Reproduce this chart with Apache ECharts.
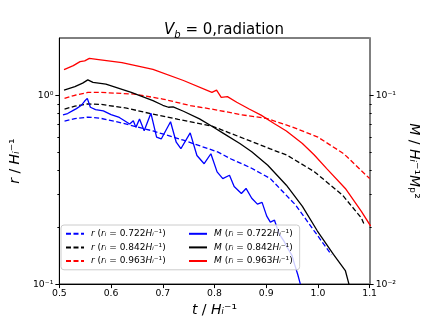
<!DOCTYPE html>
<html>
<head>
<meta charset="utf-8">
<script src="https://cdn.jsdelivr.net/npm/echarts@6.0.0/dist/echarts.min.js"></script>
<style>html,body{margin:0;padding:0;background:#fff}#main{width:429px;height:322px}</style>
</head>
<body>
<div id="main"></div>
<script>
var chartDom = document.getElementById('main')
var myChart = echarts.init(chartDom)

const font = 'DejaVu Sans'
const ri = ['0.722', '0.842', '0.963']
const colors = ['#0000ff', '#000000', '#ff0000']

// r(t) for each initial radius  [t, r]
const rBlue = [[0.51, 0.73], [0.53, 0.752], [0.555, 0.766], [0.58, 0.755], [0.621, 0.713], [0.681, 0.647], [0.74, 0.578], [0.807, 0.5], [0.831, 0.461], [0.87, 0.413], [0.908, 0.362], [0.957, 0.262], [0.993, 0.191], [1.026, 0.143]]
const rBlack = [[0.51, 0.845], [0.53, 0.875], [0.555, 0.9], [0.58, 0.895], [0.63, 0.855], [0.68, 0.795], [0.73, 0.745], [0.795, 0.687], [0.85, 0.6], [0.908, 0.52], [0.94, 0.482], [0.993, 0.394], [1.048, 0.295], [1.084, 0.224], [1.089, 0.208]]
const rRed = [[0.51, 0.963], [0.53, 1.0], [0.555, 1.035], [0.58, 1.035], [0.645, 1.014], [0.7, 0.955], [0.753, 0.882], [0.8, 0.84], [0.85, 0.79], [0.9, 0.755], [0.95, 0.68], [1.0, 0.6], [1.05, 0.49], [1.1, 0.362]]

// M(t) for each initial radius  [t, M]
const mBlue = [[0.507, 0.0787], [0.516, 0.08], [0.525, 0.0826], [0.533, 0.085], [0.542, 0.0882], [0.549, 0.0932], [0.554, 0.0963], [0.56, 0.0864], [0.57, 0.084], [0.585, 0.0826], [0.6, 0.079], [0.616, 0.0763], [0.636, 0.0704], [0.643, 0.0732], [0.648, 0.0676], [0.655, 0.0748], [0.664, 0.0649], [0.677, 0.0804], [0.688, 0.06], [0.697, 0.0587], [0.715, 0.0724], [0.726, 0.0564], [0.735, 0.0521], [0.753, 0.0632], [0.766, 0.048], [0.78, 0.0434], [0.793, 0.049], [0.805, 0.0393], [0.816, 0.0362], [0.829, 0.0377], [0.838, 0.0329], [0.852, 0.0302], [0.861, 0.0321], [0.872, 0.0285], [0.883, 0.0265], [0.892, 0.0271], [0.901, 0.0229], [0.908, 0.0213], [0.916, 0.0218], [0.925, 0.01844], [0.934, 0.01694], [0.941, 0.01557], [0.95, 0.01414], [0.955, 0.01268], [0.961, 0.01124], [0.966, 0.01]]
const mBlack = [[0.509, 0.1066], [0.53, 0.111], [0.545, 0.116], [0.555, 0.1207], [0.565, 0.117], [0.59, 0.1145], [0.639, 0.1035], [0.681, 0.0937], [0.7, 0.0885], [0.711, 0.0864], [0.72, 0.0868], [0.74, 0.0823], [0.771, 0.075], [0.795, 0.0685], [0.818, 0.0626], [0.849, 0.0555], [0.872, 0.0502], [0.903, 0.0426], [0.939, 0.0334], [0.97, 0.0258], [0.999, 0.0191], [1.03, 0.01436], [1.053, 0.0118], [1.06, 0.01]]
const mRed = [[0.509, 0.1368], [0.527, 0.1435], [0.54, 0.1506], [0.549, 0.152], [0.558, 0.1567], [0.576, 0.1544], [0.621, 0.1487], [0.681, 0.137], [0.74, 0.1197], [0.795, 0.1035], [0.804, 0.1065], [0.813, 0.0975], [0.825, 0.0983], [0.843, 0.0918], [0.867, 0.0846], [0.89, 0.0785], [0.916, 0.0706], [0.939, 0.0647], [0.97, 0.0555], [0.993, 0.0483], [1.017, 0.0409], [1.053, 0.0321], [1.084, 0.0243], [1.102, 0.0203]]

const xTicks = [0.5, 0.6, 0.7, 0.8, 0.9, 1.0, 1.1]
const leftMajor = [0.1, 1]
const leftMinor = [0.2, 0.3, 0.4, 0.5, 0.6, 0.7, 0.8, 0.9]
const rightMajor = [0.01, 0.1]
const rightMinor = [0.02, 0.03, 0.04, 0.05, 0.06, 0.07, 0.08, 0.09]

const supMap = { '-': '⁻', '0': '⁰', '1': '¹', '2': '²' }
const powLabel = v => '10' + String(Math.round(Math.log10(v))).split('').map(c => supMap[c]).join('')

const rNames = ri.map(v => `r (r_i = ${v})`)
const mNames = ri.map(v => `M (r_i = ${v})`)
const legendText = name => {
  const sym = name[0]
  const v = name.match(/[\d.]+/)[0]
  return `{it|${sym}} ({it|rᵢ} = ${v}{it|Hᵢ}⁻¹)`
}

const labelStyle = { color: '#000', fontSize: 9.3, fontFamily: font }
const nameStyle = { color: '#000', fontSize: 14, fontFamily: font, rich: { it: { fontStyle: 'italic', fontSize: 14, fontFamily: font } } }
const dashed = [5, 2.5]

const mkLine = (name, data, color, axis, dash) => ({
  name,
  type: 'line',
  data,
  yAxisIndex: axis,
  symbol: 'none',
  lineStyle: { color, width: 1.3, type: dash ? dashed : 'solid' },
  itemStyle: { color },
  z: axis === 0 ? 2 : 3
})

const series = [
  mkLine(rNames[0], rBlue, colors[0], 0, true),
  mkLine(rNames[1], rBlack, colors[1], 0, true),
  mkLine(rNames[2], rRed, colors[2], 0, true),
  mkLine(mNames[0], mBlue, colors[0], 2, false),
  mkLine(mNames[1], mBlack, colors[1], 2, false),
  mkLine(mNames[2], mRed, colors[2], 2, false)
]

const legendBase = {
  orient: 'vertical',
  top: 225,
  itemWidth: 18,
  itemHeight: 12,
  itemGap: 4,
  itemStyle: { opacity: 0 },
  formatter: legendText,
  textStyle: {
    color: '#000', fontSize: 9, fontFamily: font, padding: [0, 0, 0, 2],
    rich: { it: { fontStyle: 'italic', fontSize: 9, fontFamily: font } }
  }
}

const logAxis = (min, max, pos, ticks, minor, isMinor, extra) => Object.assign({
  type: 'log',
  logBase: 10,
  min,
  max,
  position: pos,
  splitLine: { show: false },
  axisLine: { show: !isMinor, lineStyle: { color: '#000', width: 1 } },
  axisTick: { show: true, length: isMinor ? 2 : 4, customValues: isMinor ? minor : ticks, lineStyle: { color: '#000' } },
  axisLabel: isMinor ? { show: false } : Object.assign({ customValues: ticks, formatter: powLabel, margin: 6 }, labelStyle)
}, extra || {})

var option = {
  animation: false,
  textStyle: { fontFamily: font },
  title: {
    text: '{it|V}{sub|b}{n| = 0,radiation}',
    left: 219,
    textAlign: 'center',
    top: 15,
    textStyle: {
      fontWeight: 'normal',
      rich: {
        it: { fontStyle: 'italic', fontWeight: 'normal', fontSize: 15, fontFamily: font, color: '#000', lineHeight: 20 },
        sub: { fontStyle: 'italic', fontWeight: 'normal', fontSize: 10, fontFamily: font, color: '#000', lineHeight: 10, verticalAlign: 'bottom' },
        n: { fontWeight: 'normal', fontSize: 15, fontFamily: font, color: '#000', lineHeight: 20 }
      }
    }
  },
  grid: { left: 53, right: 43, top: 38, bottom: 35, show: true, borderColor: '#000', borderWidth: 1, backgroundColor: 'transparent' },
  legend: [
    Object.assign({}, legendBase, {
      left: 61,
      padding: [4, 134, 4, 4],
      backgroundColor: 'rgba(255,255,255,0.8)',
      borderColor: '#cccccc',
      borderWidth: 1,
      borderRadius: 3,
      data: rNames
    }),
    Object.assign({}, legendBase, {
      left: 188,
      padding: [4, 4, 4, 0],
      z: 6,
      data: mNames
    })
  ],
  xAxis: {
    type: 'value',
    min: xTicks[0],
    max: xTicks[xTicks.length - 1],
    interval: 0.1,
    splitLine: { show: false },
    axisLine: { lineStyle: { color: '#000' } },
    axisTick: { length: 4, lineStyle: { color: '#000' } },
    axisLabel: Object.assign({ margin: 5, formatter: v => v.toFixed(1) }, labelStyle),
    name: '{it|t} / {it|Hᵢ}⁻¹',
    nameLocation: 'middle',
    nameGap: 11,
    nameTextStyle: nameStyle
  },
  yAxis: [
    logAxis(0.1, 2.01, 'left', leftMajor, leftMinor, false, {
      name: '{it|r} / {it|Hᵢ}⁻¹', nameLocation: 'middle', nameRotate: 90, nameGap: 32, nameTextStyle: nameStyle
    }),
    logAxis(0.1, 2.01, 'left', leftMajor, leftMinor, true),
    logAxis(0.01, 0.201, 'right', rightMajor, rightMinor, false, {
      axisLine: { show: true, lineStyle: { color: '#808080', width: 2 } },
      name: '{it|M} / {it|Hᵢ}⁻¹{it|M}ₚ²', nameLocation: 'middle', nameRotate: -90, nameGap: 30, nameTextStyle: nameStyle
    }),
    logAxis(0.01, 0.201, 'right', rightMajor, rightMinor, true)
  ],
  series
}

option && myChart.setOption(option)
</script>
</body>
</html>
